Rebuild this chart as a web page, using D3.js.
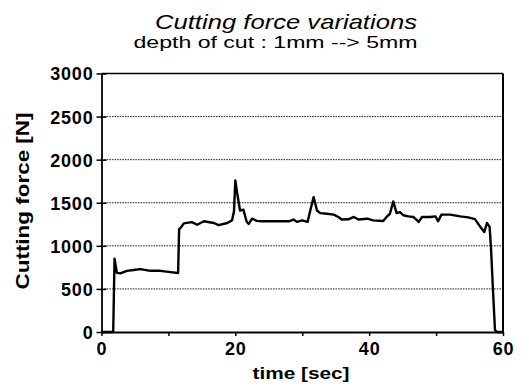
<!DOCTYPE html>
<html>
<head>
<meta charset="utf-8">
<script src="https://cdn.jsdelivr.net/npm/d3@7"></script>
<style>
  html, body { margin: 0; padding: 0; background: #fff; }
  svg { display: block; }
  text { font-family: "Liberation Sans", Arial, Helvetica, sans-serif; fill: #000; }
</style>
</head>
<body>
<svg id="chart" width="529" height="386"></svg>
<script>
// Cutting force recorded over one pass (depth of cut stepping 1mm -> 5mm)
const timeSec = [0, 1.75, 1.95, 2.3, 2.8, 3.8, 4.8, 5.8, 7.3, 8.8, 10.3, 11.45, 11.6, 11.8, 12.3,
  13.5, 14.3, 15.3, 16.8, 17.5, 18.8, 19.5, 19.8, 20.0, 20.3, 20.7, 21.2, 21.7, 22.0, 22.5,
  23.2, 24.0, 26.0, 28.0, 28.7, 29.2, 30.0, 30.8, 31.2, 31.7, 32.2, 32.7, 33.7, 34.7, 35.4,
  35.9, 36.9, 37.7, 38.4, 39.7, 40.6, 42.1, 42.6, 43.1, 43.6, 44.1, 44.6, 45.1, 45.9, 46.6,
  47.4, 47.9, 49.1, 49.9, 50.3, 50.8, 52.1, 53.6, 54.8, 55.8, 56.8, 57.2, 57.6, 58.0, 58.2,
  58.5, 58.8, 59.1, 60];
const forceN = [0, 0, 852, 686, 680, 710, 720, 730, 710, 710, 695, 685, 1195, 1205, 1260,
  1275, 1245, 1285, 1265, 1240, 1265, 1295, 1400, 1760, 1600, 1410, 1420, 1280, 1255, 1315,
  1290, 1285, 1285, 1285, 1305, 1278, 1295, 1278, 1410, 1565, 1410, 1380, 1372, 1362, 1335,
  1305, 1308, 1335, 1305, 1315, 1296, 1288, 1335, 1372, 1515, 1380, 1392, 1355, 1342, 1335,
  1278, 1335, 1335, 1342, 1285, 1362, 1362, 1342, 1330, 1310, 1200, 1160, 1265, 1220, 985,
  490, 25, 0, 0];

const yTicks = [0, 500, 1000, 1500, 2000, 2500, 3000];
const xTicks = [0, 10, 20, 30, 40, 50, 60];
const xLabelled = [0, 20, 40, 60];

const titleText = "Cutting force variations";
const subtitleText = "depth of cut : 1mm --> 5mm";
const xAxisTitle = "time [sec]";
const yAxisTitle = "Cutting force [N]";

const svg = d3.select("#chart");
const margin = { left: 101.5, right: 26, top: 73.5, bottom: 54 };
const W = 529, H = 386;

const x = d3.scaleLinear().domain([0, 60]).range([margin.left, W - margin.right]);
const y = d3.scaleLinear().domain([0, 3000]).range([H - margin.bottom, margin.top]);

// dotted horizontal gridlines
svg.append("g")
  .selectAll("line")
  .data(yTicks.filter(v => v > 0 && v < 3000))
  .join("line")
  .attr("x1", x(0)).attr("x2", x(60))
  .attr("y1", d => y(d)).attr("y2", d => y(d))
  .attr("stroke", "#222")
  .attr("stroke-width", 1)
  .attr("stroke-dasharray", "1.6,1");

// frame: top and right edges
svg.append("line")
  .attr("x1", x(0)).attr("x2", x(60)).attr("y1", y(3000)).attr("y2", y(3000))
  .attr("stroke", "#000").attr("stroke-width", 1.6);
svg.append("line")
  .attr("x1", x(60)).attr("x2", x(60)).attr("y1", y(3000)).attr("y2", y(0))
  .attr("stroke", "#000").attr("stroke-width", 2);

// y axis with ticks crossing the axis line
const yAxis = svg.append("g")
  .attr("transform", `translate(${x(0)},0)`)
  .call(d3.axisLeft(y).tickValues(yTicks).tickFormat(d3.format("d"))
    .tickSize(5).tickSizeOuter(0).tickPadding(3));
yAxis.select(".domain").attr("stroke", "#000").attr("stroke-width", 1.8);
yAxis.selectAll(".tick line").attr("x1", 5).attr("stroke-width", 1.5);
yAxis.selectAll(".tick text")
  .style("font-size", "18px").style("font-weight", "bold").style("letter-spacing", "0.8px")
  .attr("dy", "0.36em");

// x axis
const xAxis = svg.append("g")
  .attr("transform", `translate(0,${y(0)})`)
  .call(d3.axisBottom(x).tickValues(xTicks).tickSize(4).tickSizeOuter(0).tickPadding(6)
    .tickFormat(d => xLabelled.includes(d) ? d3.format("d")(d) : ""));
xAxis.select(".domain").attr("stroke", "#000").attr("stroke-width", 1.8);
xAxis.selectAll(".tick line").attr("stroke-width", 1.5);
xAxis.selectAll(".tick text")
  .style("font-size", "18px").style("font-weight", "bold").style("letter-spacing", "0.8px");

// force trace
const line = d3.line().x((d, i) => x(timeSec[i])).y(d => y(d));
svg.append("path")
  .datum(forceN)
  .attr("d", line)
  .attr("fill", "none")
  .attr("stroke", "#000")
  .attr("stroke-width", 2.4)
  .attr("stroke-linejoin", "round");

// titles
svg.append("text")
  .attr("x", 286).attr("y", 29).attr("text-anchor", "middle")
  .attr("textLength", 262).attr("lengthAdjust", "spacingAndGlyphs")
  .style("font-size", "21px").style("font-style", "italic")
  .text(titleText);
svg.append("text")
  .attr("x", 275.5).attr("y", 48).attr("text-anchor", "middle")
  .attr("textLength", 284).attr("lengthAdjust", "spacingAndGlyphs")
  .style("font-size", "17px")
  .text(subtitleText);

// axis titles
svg.append("text")
  .attr("x", 301).attr("y", 379).attr("text-anchor", "middle")
  .attr("textLength", 97).attr("lengthAdjust", "spacingAndGlyphs")
  .style("font-size", "17px").style("font-weight", "bold")
  .text(xAxisTitle);
svg.append("text")
  .attr("transform", "translate(29,201) rotate(-90)")
  .attr("text-anchor", "middle")
  .attr("textLength", 177).attr("lengthAdjust", "spacingAndGlyphs")
  .style("font-size", "18px").style("font-weight", "bold")
  .text(yAxisTitle);
</script>
</body>
</html>
